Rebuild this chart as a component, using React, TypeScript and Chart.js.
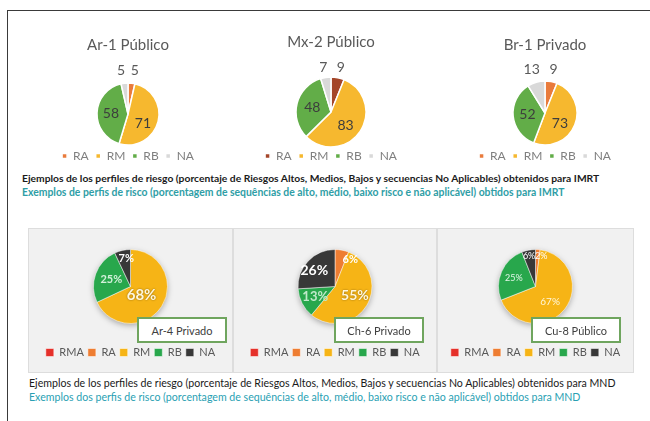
import React, { useEffect, useRef } from "react";
import { Chart, registerables } from "chart.js";

Chart.register(...registerables);

// ---------- DATA ----------
const TOP_CATEGORIES = ["RA", "RM", "RB", "NA"];
const AR1_VALUES = [5, 71, 58, 5];
const MX2_VALUES = [9, 83, 48, 7];
const BR1_VALUES = [9, 73, 52, 13];

const BOTTOM_CATEGORIES = ["RMA", "RA", "RM", "RB", "NA"];
const AR4_VALUES = [0, 0, 68, 25, 7];
const CH6_VALUES = [0, 6, 55, 13, 26];
const CU8_VALUES = [0, 2, 67, 25, 6];

const TOP_TITLES = ["Ar-1 Público", "Mx-2 Público", "Br-1 Privado"];
const BOTTOM_TITLES = ["Ar-4 Privado", "Ch-6 Privado", "Cu-8 Público"];

const CAPTION_TOP_ES =
  "Ejemplos de los perfiles de riesgo (porcentaje de Riesgos Altos, Medios, Bajos y secuencias No Aplicables) obtenidos para IMRT";
const CAPTION_TOP_PT =
  "Exemplos de perfis de risco (porcentagem de sequências de alto, médio, baixo risco e não aplicável) obtidos para IMRT";
const CAPTION_BOTTOM_ES =
  "Ejemplos de los perfiles de riesgo (porcentaje de Riesgos Altos, Medios, Bajos y secuencias No Aplicables) obtenidos para MND";
const CAPTION_BOTTOM_PT =
  "Exemplos dos perfis de risco (porcentagem de sequências de alto, médio, baixo risco e não aplicável) obtidos para MND";

// ---------- STYLE ----------
const FONT = "Lato, 'Open Sans', sans-serif";
const TOP_COLORS = ["#e97b3c", "#f6b82f", "#62ad48", "#d9d9d9"];
const MX_COLORS = ["#a4462a", "#f6b82f", "#62ad48", "#d9d9d9"];
const BOTTOM_COLORS = ["#e5302a", "#ee7d32", "#f6b416", "#28a74c", "#383838"];

const sliceLabels = {
  id: "sliceLabels",
  afterDatasetsDraw(chart: any, _a: any, opts: any) {
    const items = (opts && opts.items) || [];
    const meta = chart.getDatasetMeta(0);
    const values = chart.data.datasets[0].data;
    const ctx = chart.ctx;
    ctx.save();
    ctx.textAlign = "center";
    ctx.textBaseline = "middle";
    items.forEach((it: any) => {
      const arc = meta.data[it.index];
      const v = values[it.index];
      if (!arc || !v) return;
      const p = arc.getProps(["x", "y", "startAngle", "endAngle", "outerRadius"], true);
      const mid = (p.startAngle + p.endAngle) / 2;
      const d = p.outerRadius * it.dist;
      ctx.font = it.font;
      ctx.fillStyle = it.color;
      if (it.shadow) {
        ctx.shadowColor = "rgba(0,0,0,0.45)";
        ctx.shadowBlur = 2;
      } else {
        ctx.shadowColor = "transparent";
        ctx.shadowBlur = 0;
      }
      ctx.fillText(
        String(v) + (opts.suffix || ""),
        p.x + Math.cos(mid) * d + (it.dx || 0),
        p.y + Math.sin(mid) * d + (it.dy || 0)
      );
    });
    ctx.restore();
  },
};

const pieShadow = {
  id: "pieShadow",
  beforeDatasetsDraw(chart: any, _a: any, opts: any) {
    if (!opts || !opts.enabled) return;
    const arc = chart.getDatasetMeta(0).data[0];
    if (!arc) return;
    const p = arc.getProps(["x", "y", "outerRadius"], true);
    const ctx = chart.ctx;
    ctx.save();
    ctx.shadowColor = "rgba(0,0,0,0.35)";
    ctx.shadowBlur = 6;
    ctx.shadowOffsetY = 2;
    ctx.fillStyle = "#bbbbbb";
    ctx.beginPath();
    ctx.arc(p.x, p.y, p.outerRadius - 0.5, 0, Math.PI * 2);
    ctx.fill();
    ctx.restore();
  },
};

type PieProps = {
  left: number;
  top: number;
  width: number;
  height: number;
  labels: string[];
  values: number[];
  colors: string[];
  radius: number;
  title?: string;
  titlePad?: { top: number; bottom: number };
  padTop?: number;
  legendFont: number;
  legendBox: number;
  legendPad: number;
  legendColor: string;
  border: number;
  shadow?: boolean;
  suffix?: string;
  items: any[];
};

function PieChart(props: PieProps) {
  const ref = useRef<HTMLCanvasElement | null>(null);
  useEffect(() => {
    if (!ref.current) return;
    const chart = new Chart(ref.current, {
      type: "pie",
      data: {
        labels: props.labels,
        datasets: [
          {
            data: props.values,
            backgroundColor: props.colors,
            borderColor: "#ffffff",
            borderWidth: props.border,
            radius: props.radius,
          } as any,
        ],
      },
      plugins: [pieShadow, sliceLabels],
      options: {
        responsive: false,
        animation: false,
        layout: { padding: { top: props.padTop || 0, bottom: 0, left: 0, right: 0 } },
        plugins: {
          tooltip: { enabled: false },
          title: {
            display: !!props.title,
            text: props.title || "",
            color: "#595959",
            font: { family: FONT, size: 15, weight: "normal" },
            padding: props.titlePad || { top: 0, bottom: 0 },
          },
          legend: {
            display: true,
            position: "bottom",
            labels: {
              boxWidth: props.legendBox,
              boxHeight: props.legendBox,
              padding: props.legendPad,
              color: props.legendColor,
              font: { family: FONT, size: props.legendFont },
            },
          },
          sliceLabels: { items: props.items, suffix: props.suffix || "" },
          pieShadow: { enabled: !!props.shadow },
        } as any,
      },
    });
    return () => chart.destroy();
  }, []);
  return (
    <canvas
      ref={ref}
      width={props.width}
      height={props.height}
      style={{ position: "absolute", left: props.left, top: props.top, width: props.width, height: props.height }}
    />
  );
}

const IN_TOP = { font: `14px ${FONT}`, color: "#3d3d3d" };
const OUT_TOP = { font: `14px ${FONT}`, color: "#595959" };

export default function App() {
  const cells = [
    { x: 28, w: 205 },
    { x: 233, w: 204 },
    { x: 437, w: 197 },
  ];
  const boxLefts = [137, 334, 531];
  const bottomValues = [AR4_VALUES, CH6_VALUES, CU8_VALUES];
  const bottomItems = [
    [
      { index: 4, dist: 0.78, font: `bold 11px ${FONT}`, color: "#ffffff", dx: 2 },
      { index: 3, dist: 0.55, font: `bold 11px ${FONT}`, color: "#d3f0da" },
      { index: 2, dist: 0.45, font: `bold 15px ${FONT}`, color: "#fff7dc", shadow: true, dx: -3 },
    ],
    [
      { index: 1, dist: 0.75, font: `bold 11px ${FONT}`, color: "#ffffff", dx: 10 },
      { index: 2, dist: 0.5, font: `bold 14px ${FONT}`, color: "#fff7dc", shadow: true, dx: 4 },
      { index: 3, dist: 0.6, font: `bold 13px ${FONT}`, color: "#bfe9c9" },
      { index: 4, dist: 0.62, font: `bold 14px ${FONT}`, color: "#ffffff", dx: -4 },
    ],
    [
      { index: 4, dist: 0.78, font: `9px ${FONT}`, color: "#ffffff", dx: -1, dy: -2 },
      { index: 1, dist: 0.78, font: `9px ${FONT}`, color: "#ffffff", dx: 4, dy: -2 },
      { index: 3, dist: 0.55, font: `9px ${FONT}`, color: "#e3f6e8", dx: -3 },
      { index: 2, dist: 0.5, font: `10px ${FONT}`, color: "#fff7dc", dy: 4 },
    ],
  ];

  return (
    <div style={{ position: "absolute", left: 0, top: 0, width: 650, height: 421, background: "#ffffff", overflow: "hidden", fontFamily: FONT }}>
      <style>{`body{margin:0;background:#fff}`}</style>
      {/* outer frame */}
      <div style={{ position: "absolute", left: 7, top: 10, width: 660, height: 420, borderTop: "1.5px solid #3a3a3a", borderLeft: "1.5px solid #3a3a3a" }} />

      {/* top charts */}
      <PieChart
        left={28} top={22} width={200} height={150}
        labels={TOP_CATEGORIES} values={AR1_VALUES} colors={TOP_COLORS} radius={31}
        title={TOP_TITLES[0]} titlePad={{ top: 14, bottom: 31 }}
        legendFont={12} legendBox={5} legendPad={7} legendColor="#7f7f7f" border={1.5}
        items={[
          { index: 0, dist: 1.4, ...OUT_TOP, dx: 2 },
          { index: 3, dist: 1.4, ...OUT_TOP, dx: -2 },
          { index: 2, dist: 0.55, ...IN_TOP },
          { index: 1, dist: 0.5, ...IN_TOP, dy: 6 },
        ]}
      />
      <PieChart
        left={231} top={22} width={200} height={150}
        labels={TOP_CATEGORIES} values={MX2_VALUES} colors={MX_COLORS} radius={35}
        title={TOP_TITLES[1]} titlePad={{ top: 11, bottom: 30 }}
        legendFont={12} legendBox={5} legendPad={7} legendColor="#7f7f7f" border={1.5}
        items={[
          { index: 0, dist: 1.3, ...OUT_TOP, dx: 1 },
          { index: 3, dist: 1.3, ...OUT_TOP, dx: -1 },
          { index: 2, dist: 0.55, ...IN_TOP },
          { index: 1, dist: 0.5, ...IN_TOP, dy: 4 },
        ]}
      />
      <PieChart
        left={445} top={22} width={200} height={150}
        labels={TOP_CATEGORIES} values={BR1_VALUES} colors={TOP_COLORS} radius={32}
        title={TOP_TITLES[2]} titlePad={{ top: 14, bottom: 29 }}
        legendFont={12} legendBox={5} legendPad={7} legendColor="#7f7f7f" border={1.5}
        items={[
          { index: 0, dist: 1.4, ...OUT_TOP },
          { index: 3, dist: 1.4, ...OUT_TOP, dx: -1 },
          { index: 2, dist: 0.55, ...IN_TOP },
          { index: 1, dist: 0.5, ...IN_TOP, dy: 5 },
        ]}
      />

      {/* top captions */}
      <div style={{ position: "absolute", left: 22, top: 172, fontSize: 10.3, fontWeight: 700, color: "#1a1a1a", whiteSpace: "nowrap", lineHeight: "13px" }}>
        {CAPTION_TOP_ES}
      </div>
      <div style={{ position: "absolute", left: 22, top: 185, fontSize: 10.4, fontWeight: 700, color: "#2f9ea6", whiteSpace: "nowrap", lineHeight: "14px" }}>
        {CAPTION_TOP_PT}
      </div>

      {/* bottom panel */}
      <div style={{ position: "absolute", left: 28, top: 228, width: 606, height: 145, background: "#efefef", border: "1px solid #e2e2e2", boxSizing: "border-box" }} />
      {cells.map((c, i) => (
        <div key={"cell" + i} style={{ position: "absolute", left: c.x, top: 228, width: c.w, height: 145, border: "1px solid #dddddd", boxSizing: "border-box", background: "#f1f1f1" }} />
      ))}
      {cells.map((c, i) => (
        <PieChart
          key={"bp" + i}
          left={c.x} top={228} width={c.w} height={140}
          labels={BOTTOM_CATEGORIES} values={bottomValues[i]} colors={BOTTOM_COLORS} radius={37}
          padTop={2}
          legendFont={11} legendBox={8} legendPad={4} legendColor="#595959" border={0.5}
          shadow suffix="%"
          items={bottomItems[i]}
        />
      ))}
      {cells.map((c, i) => (
        <div
          key={"box" + i}
          style={{
            position: "absolute", left: boxLefts[i], top: 317, width: 90, height: 26,
            border: "2px solid #6fa55e", background: "#ffffff", boxSizing: "border-box",
            display: "flex", alignItems: "center", justifyContent: "center",
            fontSize: 11, color: "#404040",
          }}
        >
          {BOTTOM_TITLES[i]}
        </div>
      ))}

      {/* bottom captions */}
      <div style={{ position: "absolute", left: 29, top: 377, fontSize: 10.6, color: "#1a1a1a", whiteSpace: "nowrap", lineHeight: "13px" }}>
        {CAPTION_BOTTOM_ES}
      </div>
      <div style={{ position: "absolute", left: 29, top: 390, fontSize: 10.6, color: "#2a9fb3", whiteSpace: "nowrap", lineHeight: "14px" }}>
        {CAPTION_BOTTOM_PT}
      </div>
    </div>
  );
}
